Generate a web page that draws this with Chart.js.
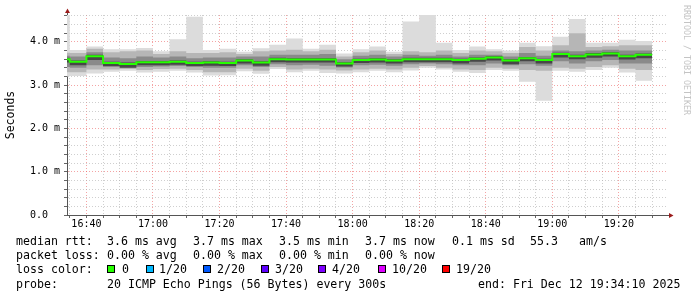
<!DOCTYPE html>
<html>
<head>
<meta charset="utf-8">
<script src="https://cdn.jsdelivr.net/npm/chart.js@4.4.1/dist/chart.umd.min.js"></script>
<style>
  html, body { margin: 0; padding: 0; background: #fff; overflow: hidden; }
  #wrap { position: relative; width: 697px; height: 297px; font-family: "DejaVu Sans Mono", monospace; }
  #chart { position: absolute; left: 0; top: 0; }
  .row { position: absolute; left: 0; width: 697px; height: 14px; font-size: 11.6px; line-height: 14px; color: #000; }
  .row span { position: absolute; top: 0; white-space: pre; }
  .row i { position: absolute; top: 3px; width: 6px; height: 6px; border: 1px solid #000; }
  #credit { position: absolute; left: 682px; top: 5px; writing-mode: vertical-rl; font-size: 8.3px; color: #c4c4c4; white-space: pre; }
</style>
</head>
<body>
<div id="wrap">
  <canvas id="chart" width="697" height="297"></canvas>
  <div id="credit">RRDTOOL / TOBI OETIKER</div>

  <div class="row" style="top:234px">
    <span style="left:16px">median rtt:</span>
    <span style="left:107px">3.6 ms avg</span>
    <span style="left:193px">3.7 ms max</span>
    <span style="left:279px">3.5 ms min</span>
    <span style="left:365px">3.7 ms now</span>
    <span style="left:452px">0.1 ms sd</span>
    <span style="left:530px">55.3</span>
    <span style="left:579px">am/s</span>
  </div>
  <div class="row" style="top:248px">
    <span style="left:16px">packet loss:</span>
    <span style="left:107px">0.00 % avg</span>
    <span style="left:193px">0.00 % max</span>
    <span style="left:279px">0.00 % min</span>
    <span style="left:365px">0.00 % now</span>
  </div>
  <div class="row" style="top:262px">
    <span style="left:16px">loss color:</span>
    <i style="left:107px;background:#26ff00"></i><span style="left:122px">0</span>
    <i style="left:146px;background:#00b8ff"></i><span style="left:159px">1/20</span>
    <i style="left:203px;background:#0059ff"></i><span style="left:217px">2/20</span>
    <i style="left:261px;background:#5e00ff"></i><span style="left:275px">3/20</span>
    <i style="left:318px;background:#7e00ff"></i><span style="left:332px">4/20</span>
    <i style="left:378px;background:#dd00ff"></i><span style="left:392px">10/20</span>
    <i style="left:442px;background:#ff0000"></i><span style="left:456px">19/20</span>
  </div>
  <div class="row" style="top:277px">
    <span style="left:16px">probe:</span>
    <span style="left:107px">20 ICMP Echo Pings (56 Bytes) every 300s</span>
    <span style="left:478px">end: Fri Dec 12 19:34:10 2025</span>
  </div>
</div>

<script>
// 5-minute slots (start time of each slot), values in ms
const slotStart = [
  '16:30', '16:35', '16:40', '16:45', '16:50', '16:55',
  '17:00', '17:05', '17:10', '17:15', '17:20', '17:25',
  '17:30', '17:35', '17:40', '17:45', '17:50', '17:55',
  '18:00', '18:05', '18:10', '18:15', '18:20', '18:25',
  '18:30', '18:35', '18:40', '18:45', '18:50', '18:55',
  '19:00', '19:05', '19:10', '19:15', '19:20', '19:25'
];
const slotEnd = '19:30';
const axisStart = '16:34:10';
const axisEnd = '19:34:10';

const median = [3.60, 3.54, 3.67, 3.51, 3.49, 3.53, 3.53, 3.54, 3.51, 3.52, 3.51, 3.57,
                3.52, 3.60, 3.59, 3.59, 3.59, 3.50, 3.58, 3.59, 3.57, 3.60, 3.60, 3.60,
                3.58, 3.61, 3.64, 3.57, 3.62, 3.58, 3.72, 3.67, 3.71, 3.73, 3.67, 3.70];
const pingMax = [4.75, 3.81, 3.89, 3.83, 3.83, 3.86, 3.78, 4.06, 4.58, 3.81, 3.84, 3.77,
                 3.85, 3.93, 4.08, 3.84, 3.93, 3.73, 3.83, 3.89, 3.77, 4.47, 4.62, 3.98,
                 3.81, 3.89, 3.83, 3.80, 3.98, 3.90, 4.12, 4.53, 3.98, 3.98, 4.05, 4.02];
const pingMin = [3.20, 3.21, 3.27, 3.31, 3.33, 3.29, 3.31, 3.33, 3.29, 3.22, 3.23, 3.32,
                 3.26, 3.37, 3.30, 3.33, 3.28, 3.27, 3.30, 3.33, 3.30, 3.34, 3.40, 3.36,
                 3.31, 3.28, 3.35, 3.33, 3.08, 2.64, 3.33, 3.31, 3.35, 3.40, 3.29, 3.10];
const midHi = [3.75, 3.74, 3.84, 3.76, 3.78, 3.80, 3.72, 3.78, 3.74, 3.74, 3.76, 3.72,
               3.78, 3.80, 3.82, 3.78, 3.82, 3.66, 3.76, 3.80, 3.72, 3.78, 3.76, 3.80,
               3.74, 3.80, 3.78, 3.74, 3.88, 3.80, 3.92, 4.20, 3.88, 3.90, 3.92, 3.92];
const midLo = [3.30, 3.30, 3.36, 3.36, 3.37, 3.35, 3.37, 3.38, 3.35, 3.30, 3.30, 3.38,
               3.33, 3.42, 3.36, 3.38, 3.36, 3.34, 3.36, 3.38, 3.36, 3.40, 3.44, 3.40,
               3.36, 3.35, 3.40, 3.38, 3.35, 3.33, 3.40, 3.38, 3.42, 3.46, 3.38, 3.35];
const innerHi = [3.68, 3.66, 3.76, 3.64, 3.62, 3.66, 3.64, 3.66, 3.62, 3.64, 3.64, 3.66,
                 3.66, 3.70, 3.70, 3.70, 3.72, 3.60, 3.68, 3.70, 3.66, 3.70, 3.68, 3.70,
                 3.66, 3.70, 3.70, 3.66, 3.74, 3.68, 3.80, 3.78, 3.80, 3.82, 3.80, 3.80];
const innerLo = [3.42, 3.40, 3.46, 3.42, 3.41, 3.42, 3.43, 3.44, 3.42, 3.40, 3.40, 3.46,
                 3.42, 3.48, 3.46, 3.47, 3.45, 3.41, 3.46, 3.47, 3.45, 3.48, 3.50, 3.48,
                 3.46, 3.46, 3.50, 3.46, 3.48, 3.45, 3.55, 3.50, 3.55, 3.58, 3.50, 3.50];
const coreHi = [3.63, 3.57, 3.70, 3.54, 3.52, 3.56, 3.56, 3.57, 3.54, 3.55, 3.54, 3.60,
                3.55, 3.63, 3.62, 3.62, 3.62, 3.53, 3.61, 3.62, 3.60, 3.63, 3.63, 3.63,
                3.61, 3.64, 3.67, 3.60, 3.65, 3.61, 3.75, 3.70, 3.74, 3.76, 3.70, 3.73];
const coreLo = [3.52, 3.46, 3.58, 3.44, 3.40, 3.46, 3.46, 3.47, 3.44, 3.45, 3.44, 3.50,
                3.45, 3.53, 3.52, 3.52, 3.52, 3.43, 3.51, 3.52, 3.50, 3.53, 3.53, 3.53,
                3.50, 3.54, 3.57, 3.48, 3.55, 3.50, 3.64, 3.60, 3.63, 3.66, 3.59, 3.62];

const xTickLabels = ['16:40', '17:00', '17:20', '17:40', '18:00', '18:20', '18:40', '19:00', '19:20'];
const yTickLabels = ['0.0', '1.0 m', '2.0 m', '3.0 m', '4.0 m'];
const yMax = 4.62;

function toMin(t) {
    const p = t.split(':').map(Number);
    return p[0] * 60 + p[1] + (p[2] || 0) / 60;
}

// stepped line: each value holds from its slot start to the next slot
function steps(values) {
    const pts = slotStart.map((t, i) => ({ x: toMin(t), y: values[i] }));
    pts.push({ x: toMin(slotEnd), y: values[values.length - 1] });
    return pts;
}

function band(values, color) {
    return {
        data: steps(values),
        stepped: true,
        borderWidth: 0,
        borderColor: 'transparent',
        backgroundColor: color,
        pointRadius: 0,
        fill: color ? '+1' : false
    };
}

const isMajor = (v, step) => Math.abs(v / step - Math.round(v / step)) < 1e-6;

const axisArrows = {
    id: 'axisArrows',
    afterDraw(chart) {
        const { ctx, chartArea: a } = chart;
        const lx = Math.round(a.left) + 0.5;
        const by = Math.round(a.bottom) + 0.5;
        ctx.save();
        ctx.strokeStyle = '#555';
        ctx.lineWidth = 1;
        ctx.beginPath();
        ctx.moveTo(lx, a.top);
        ctx.lineTo(lx, a.top - 3);
        ctx.moveTo(a.right, by);
        ctx.lineTo(a.right + 4, by);
        ctx.stroke();
        ctx.fillStyle = '#9b1b1b';
        ctx.beginPath();
        ctx.moveTo(lx - 2.5, a.top - 2);
        ctx.lineTo(lx + 2.5, a.top - 2);
        ctx.lineTo(lx, a.top - 6.5);
        ctx.closePath();
        ctx.fill();
        ctx.beginPath();
        ctx.moveTo(a.right + 3, by - 2.5);
        ctx.lineTo(a.right + 3, by + 2.5);
        ctx.lineTo(a.right + 7.5, by);
        ctx.closePath();
        ctx.fill();
        ctx.restore();
    }
};

const gridStyle = {
    color: ctx => ctx.tick && ctx.tick.major ? 'rgba(235,90,90,0.55)' : 'rgba(175,175,175,0.6)',
    tickLength: 3,
    tickColor: '#666',
    tickBorderDash: []
};

new Chart(document.getElementById('chart'), {
    type: 'line',
    data: {
        datasets: [
            { data: steps(median), stepped: true, borderColor: '#26ff00', borderWidth: 2, pointRadius: 0, fill: false },
            band(coreHi, '#474747'),
            band(coreLo, null),
            band(innerHi, '#8a8a8a'),
            band(innerLo, null),
            band(midHi, '#b6b6b6'),
            band(midLo, null),
            band(pingMax, '#dcdcdc'),
            band(pingMin, null)
        ]
    },
    plugins: [axisArrows],
    options: {
        responsive: false,
        animation: false,
        events: [],
        layout: { padding: { top: 15, right: 31, left: 0, bottom: 0 } },
        plugins: { legend: { display: false }, tooltip: { enabled: false } },
        scales: {
            x: {
                type: 'linear',
                z: 1,
                min: toMin(axisStart),
                max: toMin(axisEnd),
                afterBuildTicks: axis => {
                    const ticks = [];
                    for (let v = Math.ceil(axis.min / 5) * 5; v <= axis.max; v += 5) {
                        ticks.push({ value: v, major: isMajor(v, 20) });
                    }
                    axis.ticks = ticks;
                },
                afterFit: scale => { scale.height = 82; },
                ticks: {
                    autoSkip: false,
                    maxRotation: 0,
                    padding: 0,
                    color: '#000',
                    font: { family: 'DejaVu Sans Mono', size: 10 },
                    callback: v => xTickLabels.find(l => Math.abs(toMin(l) - v) < 1e-6) || ''
                },
                grid: gridStyle,
                border: { color: '#555', width: 1, dash: [1, 2] }
            },
            y: {
                z: 1,
                min: 0,
                max: yMax,
                afterBuildTicks: axis => {
                    const ticks = [];
                    for (let i = 0; i * 0.2 <= axis.max + 1e-9; i++) {
                        const v = Math.round(i * 2) / 10;
                        ticks.push({ value: v, major: isMajor(v, 1) });
                    }
                    axis.ticks = ticks;
                },
                afterFit: scale => { scale.width = 67; },
                title: {
                    display: true,
                    text: 'Seconds',
                    color: '#000',
                    font: { family: 'DejaVu Sans Mono', size: 11.5 },
                    padding: { top: 4, bottom: 0 }
                },
                ticks: {
                    autoSkip: false,
                    padding: 4,
                    color: '#000',
                    font: { family: 'DejaVu Sans Mono', size: 10 },
                    callback: v => isMajor(v, 1) ? yTickLabels[Math.round(v)].padEnd(5, ' ') : ''
                },
                grid: gridStyle,
                border: { color: '#555', width: 1, dash: [1, 2] }
            }
        }
    }
});
</script>
</body>
</html>
